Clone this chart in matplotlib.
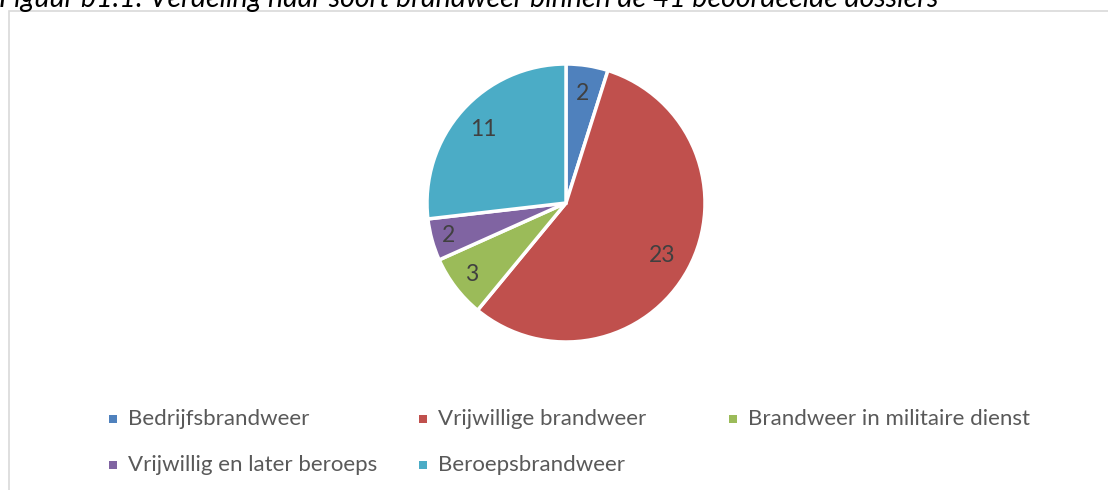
import matplotlib
matplotlib.use("Agg")
import numpy as np
import matplotlib.pyplot as plt
from matplotlib.patches import Rectangle

categories = ["Bedrijfsbrandweer", "Vrijwillige brandweer", "Brandweer in militaire dienst",
              "Vrijwillig en later beroeps", "Beroepsbrandweer"]
values = [2, 23, 3, 2, 11]
colors = ["#4f81bd", "#c0504d", "#9bbb59", "#8064a2", "#4bacc6"]
title = "Figuur b1.1: Verdeling naar soort brandweer binnen de 41 beoordeelde dossiers"
label_dist = [0.80, 0.79, 0.85, 0.88, 0.80]

W, H = 1108, 490
fig = plt.figure(figsize=(W / 100, H / 100), dpi=100)
fig.patch.set_facecolor("white")
FONT = "Lato"

# chart border
fig.patches.append(Rectangle((9 / W, -0.01), 1.1, 1 - 11 / H + 0.01, transform=fig.transFigure,
                             fill=False, edgecolor="#d9d9d9", linewidth=1.2))

# caption at the top (cut off by the page edge, as in the original)
fig.text(-0.001, 1 - 7 / H, title, fontsize=20.5, style="italic", family=FONT,
         color="#000000", ha="left", va="baseline")

# pie
cx, cy, r = 566, 203, 139
ax = fig.add_axes([(cx - r) / W, 1 - (cy + r) / H, 2 * r / W, 2 * r / H])
wedges, texts, autotexts = ax.pie(values, colors=colors, startangle=90, counterclock=False,
                                  wedgeprops=dict(edgecolor="white", linewidth=2.5),
                                  autopct=lambda p: f"{round(p * sum(values) / 100):d}",
                                  pctdistance=0.8,
                                  textprops=dict(fontsize=16.5, color="#404040", family=FONT))
for w, t, d in zip(wedges, autotexts, label_dist):
    ang = np.deg2rad((w.theta1 + w.theta2) / 2)
    t.set_position((d * np.cos(ang), d * np.sin(ang)))
ax.set_aspect("equal")
ax.set_xlim(-1, 1)
ax.set_ylim(-1, 1)

# legend laid out in equal-width columns like the original
x0, colw = 113, 310
rows_y = [419, 465]
ncol = 3
for i, (lab, col) in enumerate(zip(categories, colors)):
    row, c = divmod(i, ncol)
    x = x0 + c * colw
    y = rows_y[row]
    fig.patches.append(Rectangle(((x - 4) / W, 1 - (y + 4) / H), 8 / W, 8 / H,
                                 transform=fig.transFigure, facecolor=col, edgecolor="none"))
    fig.text((x + 15) / W, 1 - y / H, lab, fontsize=16, family=FONT, color="#595959",
             ha="left", va="center")

fig.savefig("out.png", dpi=100, facecolor="white")
